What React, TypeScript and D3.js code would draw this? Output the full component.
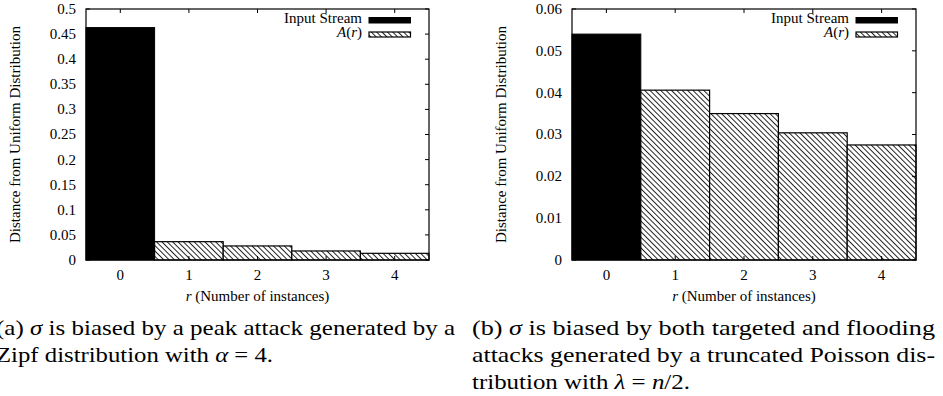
import React from 'react';
import * as d3 from 'd3';

// ---------- data ----------
const rCategories = [0, 1, 2, 3, 4];
const xTickLabels = ['0', '1', '2', '3', '4'];

// (a) Zipf, alpha = 4
const zipfInputStream = [0.463]; // r = 0
const zipfAr = [0.0365, 0.028, 0.018, 0.0133]; // r = 1..4
const zipfYTicks = [0, 0.05, 0.1, 0.15, 0.2, 0.25, 0.3, 0.35, 0.4, 0.45, 0.5];
const zipfYTickLabels = ['0', '0.05', '0.1', '0.15', '0.2', '0.25', '0.3', '0.35', '0.4', '0.45', '0.5'];

// (b) truncated Poisson, lambda = n/2
const poissonInputStream = [0.054]; // r = 0
const poissonAr = [0.0406, 0.035, 0.0304, 0.0275]; // r = 1..4
const poissonYTicks = [0, 0.01, 0.02, 0.03, 0.04, 0.05, 0.06];
const poissonYTickLabels = ['0', '0.01', '0.02', '0.03', '0.04', '0.05', '0.06'];

const yAxisTitle = 'Distance from Uniform Distribution';
const xAxisTitle = '(Number of instances)';
const legendInput = 'Input Stream';

type Seg = { t: string; i?: boolean };
const captionA: Seg[][] = [
  [{ t: '(a) ' }, { t: 'σ', i: true }, { t: ' is biased by a peak attack generated by a' }],
  [{ t: 'Zipf distribution with ' }, { t: 'α', i: true }, { t: ' = 4.' }],
];
const captionB: Seg[][] = [
  [{ t: '(b) ' }, { t: 'σ', i: true }, { t: ' is biased by both targeted and flooding' }],
  [{ t: 'attacks generated by a truncated Poisson dis-' }],
  [{ t: 'tribution with ' }, { t: 'λ', i: true }, { t: ' = ' }, { t: 'n', i: true }, { t: '/2.' }],
];

const FONT = 'Liberation Serif, Times New Roman, Times, DejaVu Serif, serif';

type PanelProps = {
  left: number; right: number; top: number; bottom: number;
  yMax: number; yTicks: number[]; yTickLabels: string[];
  inputStream: number[]; ar: number[]; patternId: string;
};

function Panel(p: PanelProps) {
  const x = d3.scaleLinear().domain([-0.5, 4.5]).range([p.left, p.right]);
  const y = d3.scaleLinear().domain([0, p.yMax]).range([p.bottom, p.top]);
  const tick = 4;
  const inputBars = p.inputStream.map((v, i) => ({ r: rCategories[i], v }));
  const arBars = p.ar.map((v, i) => ({ r: rCategories[i + p.inputStream.length], v }));
  const midY = (p.top + p.bottom) / 2;
  return (
    <g style={{ fontFamily: FONT, fontSize: '15px' }} fill="#000">
      {inputBars.map((b) => (
        <rect key={'in' + b.r} x={x(b.r - 0.5)} y={y(b.v)} width={x(b.r + 0.5) - x(b.r - 0.5)}
          height={y(0) - y(b.v)} fill="#000" stroke="#000" strokeWidth={1} />
      ))}
      {arBars.map((b) => (
        <rect key={'ar' + b.r} x={x(b.r - 0.5)} y={y(b.v)} width={x(b.r + 0.5) - x(b.r - 0.5)}
          height={y(0) - y(b.v)} fill={`url(#${p.patternId})`} stroke="#000" strokeWidth={1.2} />
      ))}
      {p.yTicks.map((t, i) => (
        <g key={'yt' + i}>
          <line x1={p.left} x2={p.left + tick} y1={y(t)} y2={y(t)} stroke="#000" />
          <line x1={p.right} x2={p.right - tick} y1={y(t)} y2={y(t)} stroke="#000" />
          <text x={p.left - 10} y={y(t)} dy="0.33em" textAnchor="end">{p.yTickLabels[i]}</text>
        </g>
      ))}
      {rCategories.map((r, i) => (
        <g key={'xt' + i}>
          <line x1={x(r)} x2={x(r)} y1={p.bottom} y2={p.bottom - tick} stroke="#000" />
          <line x1={x(r)} x2={x(r)} y1={p.top} y2={p.top + tick} stroke="#000" />
          <text x={x(r)} y={p.bottom + 20} textAnchor="middle">{xTickLabels[i]}</text>
        </g>
      ))}
      <rect x={p.left} y={p.top} width={p.right - p.left} height={p.bottom - p.top}
        fill="none" stroke="#000" strokeWidth={1.2} />
      <text x={(p.left + p.right) / 2} y={p.bottom + 41} textAnchor="middle">
        <tspan fontStyle="italic">r</tspan> {xAxisTitle}
      </text>
      <text transform={`translate(${p.left - 66},${midY}) rotate(-90)`} textAnchor="middle">{yAxisTitle}</text>
      <text x={p.right - 67} y={p.top + 13.5} textAnchor="end">{legendInput}</text>
      <rect x={p.right - 60} y={p.top + 8.5} width={41.5} height={5.5} fill="#000" stroke="#000" />
      <text x={p.right - 67} y={p.top + 27.5} textAnchor="end">
        <tspan fontStyle="italic">A</tspan>(<tspan fontStyle="italic">r</tspan>)
      </text>
      <rect x={p.right - 60} y={p.top + 23} width={41.5} height={5} fill={`url(#${p.patternId})`} stroke="#000" strokeWidth={1.2} />
    </g>
  );
}

function Caption({ lines, x, ends, y0 }: { lines: Seg[][]; x: number; ends: number[]; y0: number }) {
  return (
    <g style={{ fontFamily: FONT, fontSize: '21px' }} fill="#000">
      {lines.map((segs, li) => (
        <text key={li} x={x} y={y0 + li * 26.8} textLength={ends[li] - x} lengthAdjust="spacingAndGlyphs">
          {segs.map((s, si) => (
            <tspan key={si} fontStyle={s.i ? 'italic' : 'normal'}>{s.t}</tspan>
          ))}
        </text>
      ))}
    </g>
  );
}

export default function App() {
  return (
    <svg width={943} height={396} style={{ position: 'absolute', left: 0, top: 0, background: '#fff' }}>
      <defs>
        {['hatchA', 'hatchB'].map((id) => (
          <pattern key={id} id={id} patternUnits="userSpaceOnUse" width={3.8} height={3.8} patternTransform="rotate(-45)">
            <rect width={3.8} height={3.8} fill="#fff" />
            <line x1={0.5} y1={0} x2={0.5} y2={3.8} stroke="#000" strokeWidth={0.85} />
          </pattern>
        ))}
      </defs>
      <rect width={943} height={396} fill="#fff" />
      <Panel left={86} right={429} top={9} bottom={260} yMax={0.5} yTicks={zipfYTicks}
        yTickLabels={zipfYTickLabels} inputStream={zipfInputStream} ar={zipfAr} patternId="hatchA" />
      <Panel left={572} right={916} top={9} bottom={260} yMax={0.06} yTicks={poissonYTicks}
        yTickLabels={poissonYTickLabels} inputStream={poissonInputStream} ar={poissonAr} patternId="hatchB" />
      <Caption lines={captionA} x={-4} ends={[455, 273]} y0={335} />
      <Caption lines={captionB} x={472} ends={[935, 935, 690]} y0={335} />
    </svg>
  );
}
